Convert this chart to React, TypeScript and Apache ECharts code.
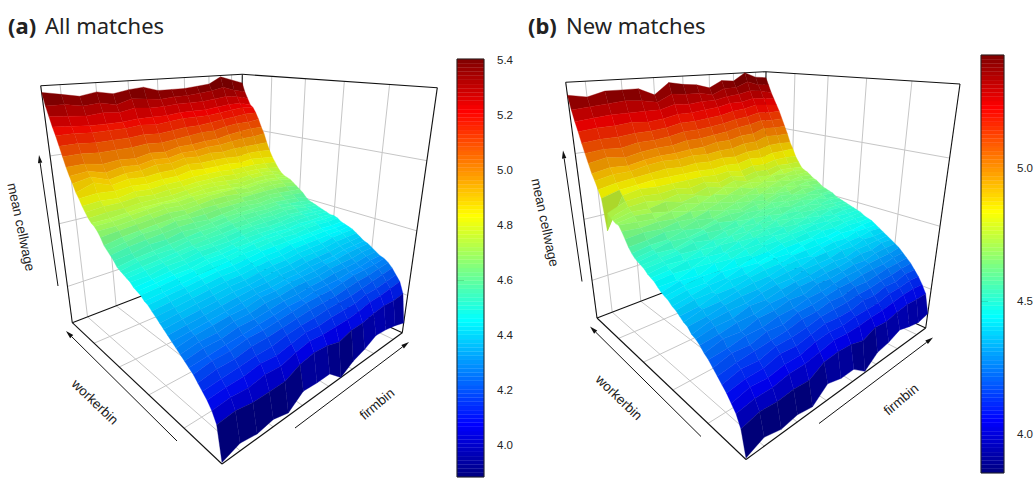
import React, { useEffect, useRef } from "react";
import * as echarts from "echarts";

const firmTicks = [2, 4, 6, 8, 10, 12, 14];
const workerTicks = [10, 20, 30, 40];
const wageTicks = [4.08, 4.56, 5.03];
const barTicksA = [4.0, 4.2, 4.4, 4.6, 4.8, 5.0, 5.2, 5.4];
const barTicksB = [4.0, 4.5, 5.0];

// mean cellwage x100; rows workerbin 1..50, columns firmbin 1..15
const wageAll = [
[379,383,381,383,380,388,387,387,378,384,387,392,391,389,386],
[400,401,399,399,399,404,406,405,402,405,405,407,408,407,408],
[406,407,406,408,407,410,412,411,411,411,412,414,414,415,416],
[410,411,411,413,412,414,416,415,416,416,416,418,418,419,420],
[413,414,415,416,416,418,419,419,420,420,420,421,422,423,424],
[416,418,418,420,420,421,422,423,423,423,424,425,425,426,427],
[419,421,421,423,423,424,425,426,426,426,427,428,428,428,429],
[421,422,423,424,425,426,427,427,428,428,428,429,429,430,430],
[423,425,425,427,427,428,429,429,430,430,431,431,431,432,432],
[425,427,427,429,429,431,431,432,432,432,433,433,433,434,434],
[427,429,430,431,431,433,433,434,434,434,435,435,436,436,436],
[429,430,431,432,433,434,434,435,435,436,436,436,437,437,437],
[431,432,433,434,435,436,436,437,437,438,438,438,439,439,439],
[433,434,435,436,437,437,438,439,439,440,440,440,441,441,441],
[435,436,437,438,439,439,440,441,441,442,442,442,443,443,443],
[437,438,439,440,441,441,442,443,443,444,444,444,444,444,444],
[439,440,441,442,443,443,444,445,445,446,446,446,446,445,445],
[441,442,443,444,445,445,446,447,447,447,447,447,447,446,446],
[442,443,444,445,446,447,448,448,449,449,448,449,449,448,448],
[444,445,446,447,448,448,449,450,450,450,450,450,450,449,449],
[445,446,447,447,449,449,450,450,451,451,450,451,450,450,449],
[446,447,448,449,450,450,451,452,452,452,452,452,452,451,450],
[448,448,450,450,452,452,452,453,454,453,453,454,453,452,451],
[449,450,451,452,453,453,454,455,455,455,455,455,454,453,452],
[450,451,452,453,454,455,455,456,456,457,456,457,456,454,453],
[451,453,454,454,456,456,457,458,458,458,458,458,457,455,454],
[452,454,455,456,457,458,458,459,460,460,459,460,458,457,455],
[455,456,458,458,460,459,460,461,461,461,461,461,460,459,457],
[457,459,460,461,462,462,461,462,463,463,462,463,462,461,460],
[459,461,463,463,465,464,464,465,465,465,464,465,464,463,462],
[461,463,464,465,466,466,467,467,467,467,467,467,467,466,464],
[465,466,467,468,469,468,469,470,470,469,468,469,469,468,466],
[468,468,469,470,471,470,471,472,472,472,470,471,471,470,468],
[470,470,471,472,473,472,473,473,473,472,471,472,472,471,469],
[471,471,472,473,473,473,474,475,475,474,473,474,474,473,470],
[473,474,474,475,475,475,476,477,477,476,475,476,476,475,472],
[476,477,477,478,477,478,478,479,479,479,478,478,478,477,475],
[479,480,479,481,480,481,481,482,482,482,481,481,481,480,479],
[483,484,483,484,483,484,484,486,485,485,485,484,485,484,483],
[486,490,486,488,487,488,488,490,489,489,489,488,489,489,488],
[491,493,489,491,491,493,492,494,493,494,493,494,494,494,494],
[495,496,493,495,494,496,495,497,497,498,498,499,500,500,501],
[500,500,498,499,498,500,499,501,501,502,502,504,505,506,506],
[506,506,505,505,505,506,505,506,507,508,508,510,511,511,512],
[512,512,511,511,511,512,511,512,513,513,514,515,516,517,517],
[518,518,517,517,517,518,517,518,519,519,519,520,521,522,521],
[523,522,521,521,521,522,522,522,523,523,523,524,525,525,523],
[529,528,527,528,527,529,528,528,529,529,529,530,531,530,528],
[535,535,533,534,532,535,534,533,534,534,535,536,538,535,533],
[543,541,539,541,539,541,542,539,539,539,540,541,546,543,540],
];
const wageNew = [
[377,382,379,381,379,388,385,385,377,385,387,391,388,386,388],
[393,396,395,396,395,401,402,401,398,402,401,403,404,403,403],
[400,402,402,404,404,406,408,407,407,408,408,409,410,410,409],
[404,407,406,408,408,411,412,411,412,412,412,414,414,415,414],
[408,410,410,413,412,414,416,415,415,417,416,418,417,419,418],
[411,414,413,416,416,417,419,419,419,420,420,421,421,422,422],
[414,416,417,418,419,421,421,423,422,424,423,424,425,425,425],
[417,420,419,422,421,424,424,425,426,426,427,427,427,428,428],
[420,421,423,423,425,425,427,427,428,429,429,430,430,430,431],
[422,425,424,427,427,429,428,431,430,431,432,431,433,433,433],
[425,426,428,428,430,430,432,432,433,433,434,435,434,436,435],
[427,429,429,432,431,433,434,434,435,436,435,437,437,437,437],
[428,431,432,432,434,435,435,437,437,437,439,438,440,439,439],
[431,432,434,435,435,437,438,438,440,440,440,441,441,442,441],
[432,435,435,437,438,438,440,441,440,442,443,442,444,443,443],
[434,435,438,438,440,441,441,443,443,443,444,445,444,445,445],
[436,438,438,441,441,443,444,443,445,446,445,446,447,446,446],
[437,439,441,441,444,443,445,446,446,446,448,447,448,448,447],
[439,441,441,444,443,446,446,448,448,449,448,450,449,449,449],
[440,442,444,443,447,446,449,449,450,450,451,450,451,450,450],
[441,444,443,447,446,449,449,451,450,452,451,453,451,452,451],
[443,443,447,446,449,449,452,451,453,452,454,452,454,453,452],
[445,446,445,449,448,452,451,454,453,455,453,455,454,454,453],
[446,447,449,448,452,451,454,453,456,454,456,455,456,455,454],
[447,449,448,451,450,454,453,456,455,457,456,458,456,457,455],
[449,450,451,450,453,452,456,455,458,456,458,457,459,457,456],
[450,451,452,454,452,455,455,458,457,460,458,460,458,459,458],
[451,453,452,455,456,455,458,456,460,459,461,460,461,459,459],
[452,454,456,455,457,459,457,460,459,462,460,463,461,462,460],
[454,456,456,459,457,460,461,460,462,461,464,462,464,463,461],
[457,458,460,459,462,460,463,461,464,462,465,464,466,464,463],
[461,462,461,463,462,465,462,465,463,466,464,467,465,466,465],
[465,464,465,464,466,464,467,464,467,465,468,466,468,467,466],
[468,467,466,468,465,469,466,469,466,469,467,470,468,469,468],
[468,470,469,467,470,467,471,468,471,468,471,469,471,470,470],
[469,472,471,473,470,472,469,473,470,472,470,473,472,473,471],
[470,474,475,473,475,472,475,472,475,472,474,472,475,474,473],
[472,477,478,477,478,476,478,475,478,475,477,476,478,477,477],
[459,480,482,481,481,481,481,480,481,479,481,480,482,482,481],
[480,483,484,485,485,485,485,484,485,484,486,485,487,487,487],
[485,487,488,489,490,489,490,489,490,489,491,491,493,493,492],
[490,492,492,494,495,494,495,494,495,495,497,497,500,499,499],
[494,496,495,497,498,498,499,499,501,501,503,503,506,505,505],
[500,502,500,502,503,503,505,505,506,507,509,510,512,511,511],
[506,507,506,508,508,509,511,511,512,513,515,516,518,517,517],
[512,513,513,514,514,515,517,517,518,519,521,522,524,523,522],
[519,520,520,521,520,521,523,523,524,525,527,527,529,528,527],
[525,526,527,527,527,527,530,529,530,530,532,533,535,534,532],
[532,533,534,535,534,532,537,536,536,534,538,538,542,539,538],
[541,539,542,542,542,537,545,543,542,539,544,543,549,545,544],
];

type P = [number, number];
function makeH(p00: P, p10: P, p11: P, p01: P) {
  const [x0, y0] = p00, [x1, y1] = p10, [x2, y2] = p11, [x3, y3] = p01;
  const dx1 = x1 - x2, dx2 = x3 - x2, sx = x0 - x1 + x2 - x3;
  const dy1 = y1 - y2, dy2 = y3 - y2, sy = y0 - y1 + y2 - y3;
  const den = dx1 * dy2 - dx2 * dy1;
  const g = (sx * dy2 - dx2 * sy) / den, h = (dx1 * sy - sx * dy1) / den;
  const a = x1 - x0 + g * x1, b = x3 - x0 + h * x3, d = y1 - y0 + g * y1, e = y3 - y0 + h * y3;
  return (u: number, v: number): P => {
    const W = g * u + h * v + 1;
    return [(a * u + b * v + x0) / W, (d * u + e * v + y0) / W];
  };
}

function jet(t: number, shade = 1) {
  const c = (v: number) => Math.round(255 * shade * Math.max(0, Math.min(1, v)));
  return `rgb(${c(Math.min(4 * t - 1.5, -4 * t + 4.5))},${c(Math.min(4 * t - 0.5, -4 * t + 3.5))},${c(Math.min(4 * t + 0.5, -4 * t + 2.5))})`;
}

function panelSeries(cfg: any, wage: number[][], barGrid: number) {
  const { bottom, top, vp, zlim, barRange } = cfg;
  const Hb = makeH(bottom[0], bottom[1], bottom[3], bottom[2]);
  const Ht = makeH(top[0], top[1], top[3], top[2]);
  const nR = wage.length, nC = wage[0].length;
  const zSpan = zlim[1] - zlim[0];
  const project = (w: number, f: number, z: number): P => {
    const zn = (z - zlim[0]) / zSpan;
    const B = Hb(w, f), T = Ht(w, f);
    const db = Math.hypot(B[0] - vp[0], B[1] - vp[1]);
    const dt = Math.hypot(T[0] - vp[0], T[1] - vp[1]);
    const d = 1 / ((1 - zn) / db + zn / dt);
    const s = (d - db) / (dt - db);
    return [B[0] + (T[0] - B[0]) * s, B[1] + (T[1] - B[1]) * s];
  };
  const lines: [number, number, number, number, number, number, string][] = [];
  const add = (a: number[], b: number[], col: string) => lines.push([a[0], a[1], a[2], b[0], b[1], b[2], col]);
  const [z0, z1] = zlim;
  const grey = "#c6c6c6", ink = "#111";
  firmTicks.forEach((t) => {
    const f = (t - 1) / (nC - 1);
    add([0, f, z0], [1, f, z0], grey);
    add([1, f, z0], [1, f, z1], grey);
  });
  workerTicks.forEach((t) => {
    const w = (t - 1) / (nR - 1);
    add([w, 0, z0], [w, 1, z0], grey);
    add([w, 1, z0], [w, 1, z1], grey);
  });
  wageTicks.forEach((z) => {
    add([1, 0, z], [1, 1, z], grey);
    add([0, 1, z], [1, 1, z], grey);
  });
  add([1, 0, z1], [1, 1, z1], ink);
  add([0, 1, z1], [1, 1, z1], ink);
  add([1, 0, z0], [1, 0, z1], ink);
  add([0, 1, z0], [0, 1, z1], ink);
  add([1, 1, z0], [1, 1, z1], ink);
  add([1, 0, z0], [1, 1, z0], ink);
  add([0, 1, z0], [1, 1, z0], ink);
  add([0, 0, z0], [1, 0, z0], ink);
  add([0, 0, z0], [0, 1, z0], ink);

  const cells: number[][] = [];
  for (let i = nR - 2; i >= 0; i--) for (let j = nC - 2; j >= 0; j--) cells.push([i, j]);
  const levels = Array.from({ length: 100 }, (_, k) => [k, k]);
  return [
    {
      type: "custom", xAxisIndex: 0, yAxisIndex: 0, clip: false, silent: true,
      data: lines.map((_, k) => [k, k]),
      renderItem: (_p: any, api: any) => {
        const L = lines[api.value(0)];
        const a = api.coord(project(L[0], L[1], L[2]));
        const b = api.coord(project(L[3], L[4], L[5]));
        return { type: "line", shape: { x1: a[0], y1: a[1], x2: b[0], y2: b[1] }, style: { stroke: L[6], lineWidth: L[6] === ink ? 1.1 : 1, fill: "none" } };
      },
    },
    {
      type: "custom", xAxisIndex: 0, yAxisIndex: 0, clip: false, silent: true,
      data: cells,
      renderItem: (_p: any, api: any) => {
        const i = api.value(0), j = api.value(1);
        const zs = [wage[i][j], wage[i + 1][j], wage[i + 1][j + 1], wage[i][j + 1]].map((v) => v / 100);
        const pts = [[i, j], [i + 1, j], [i + 1, j + 1], [i, j + 1]].map((q, k) =>
          api.coord(project(q[0] / (nR - 1), q[1] / (nC - 1), zs[k])));
        const mean = (zs[0] + zs[1] + zs[2] + zs[3]) / 4;
        const u = Math.max(0, Math.min(0.999, (mean - barRange[0]) / (barRange[1] - barRange[0])));
        const sw = (((zs[1] + zs[2]) - (zs[0] + zs[3])) / 2) * (nR - 1) / zSpan;
        const sf = (((zs[2] + zs[3]) - (zs[0] + zs[1])) / 2) * (nC - 1) / zSpan;
        const lamb = (-0.1 * sw - 0.2 * sf + 0.97) / Math.sqrt(1 + sw * sw + sf * sf);
        const shade = 0.82 + 0.18 * Math.max(0, Math.min(1, lamb));
        const col = jet((Math.floor(u * 100) + 0.5) / 100, shade);
        return { type: "polygon", shape: { points: pts }, style: { fill: col, stroke: col, lineWidth: 0.35 } };
      },
    },
    {
      type: "custom", xAxisIndex: barGrid, yAxisIndex: barGrid, silent: true, clip: false,
      data: levels,
      renderItem: (_p: any, api: any) => {
        const k = api.value(0);
        const r = barRange[1] - barRange[0];
        const a = api.coord([0, barRange[0] + (r * k) / 100]);
        const b = api.coord([1, barRange[0] + (r * (k + 1)) / 100]);
        const col = jet((k + 0.5) / 100);
        return { type: "rect", shape: { x: a[0], y: b[1], width: b[0] - a[0], height: a[1] - b[1] }, style: { fill: col, stroke: col, lineWidth: 0.3 } };
      },
    },
    {
      type: "custom", xAxisIndex: barGrid, yAxisIndex: barGrid, silent: true, clip: false, z: 5,
      data: [[0, 0]],
      renderItem: (_p: any, api: any) => {
        const a = api.coord([0, barRange[0]]);
        const b = api.coord([1, barRange[1]]);
        return { type: "rect", shape: { x: a[0], y: b[1], width: b[0] - a[0], height: a[1] - b[1] }, style: { fill: "none", stroke: "#222", lineWidth: 1 } };
      },
    },
  ];
}

const panelA = {
  bottom: [[222, 464], [72.3, 322.7], [402.3, 332.7], [240, 258]],
  top: [[216, 116], [40.7, 85.7], [437.3, 87.7], [242.3, 74.3]],
  vp: [232, 1531], zlim: [3.78, 5.47], barRange: [3.884, 5.403],
};
const panelB = {
  bottom: [[746, 459.5], [597, 318], [925.7, 328], [764, 254]],
  top: [[740.5, 112], [565.7, 82.3], [960, 84], [766, 71.7]],
  vp: [756, 1527], zlim: [3.76, 5.49], barRange: [3.853, 5.425],
};

function axisTexts(dx: number, dy: number) {
  const t = (text: string, x: number, y: number, deg: number) => ({
    type: "text", x: x + dx, y: y + dy, rotation: (deg * Math.PI) / 180,
    style: { text, fill: "#222", font: "13.5px 'Liberation Sans'", textAlign: "center", textVerticalAlign: "middle" },
  });
  const arrow = (x1: number, y1: number, x2: number, y2: number) => {
    const a = Math.atan2(y2 - y1, x2 - x1), L = 8, W = 2.2;
    const bx = x2 - L * Math.cos(a), by = y2 - L * Math.sin(a);
    return [
      { type: "line", shape: { x1: x1 + dx, y1: y1 + dy, x2: bx + dx, y2: by + dy }, style: { stroke: "#111", lineWidth: 1 } },
      { type: "polygon", shape: { points: [[x2 + dx, y2 + dy], [bx - W * Math.sin(a) + dx, by + W * Math.cos(a) + dy], [bx + W * Math.sin(a) + dx, by - W * Math.cos(a) + dy]] }, style: { fill: "#111" } },
    ];
  };
  return [
    t("mean cellwage", 21, 227, -78), t("workerbin", 95, 402, -44), t("firmbin", 377, 404, 40),
    ...arrow(58, 286, 39, 155), ...arrow(177, 441, 66, 331), ...arrow(295, 428, 409, 342),
  ];
}

function heading(x1: number, x2: number, tag: string, name: string) {
  const font = "22px 'Noto Sans'";
  return [
    { type: "text", x: x1, y: 25, style: { text: tag, fill: "#222", font: "bold " + font, textVerticalAlign: "middle" } },
    { type: "text", x: x2, y: 25, style: { text: name, fill: "#222", font, textVerticalAlign: "middle" } },
  ];
}

function barAxis(grid: number, range: number[], ticks: number[]) {
  return {
    gridIndex: grid, type: "value", min: range[0], max: range[1], position: "right",
    axisLine: { show: false }, splitLine: { show: false },
    axisTick: { show: true, length: 7, inside: false, customValues: ticks, lineStyle: { color: "#222", width: 1 } },
    axisLabel: { show: true, margin: 13, customValues: ticks, color: "#222", fontFamily: "Liberation Sans", fontSize: 11.5, formatter: (v: number) => v.toFixed(1) },
  };
}

export default function App() {
  const ref = useRef<HTMLDivElement>(null);
  useEffect(() => {
    const chart = echarts.init(ref.current!, undefined, { renderer: "svg" });
    const hidden = { type: "value", show: false, splitLine: { show: false } };
    chart.setOption({
      animation: false,
      backgroundColor: "#fff",
      grid: [
        { left: 0, top: 0, width: 1036, height: 478 },
        { left: 457, top: 59, width: 27, height: 418 },
        { left: 981, top: 55, width: 24, height: 418 },
      ],
      xAxis: [
        { ...hidden, gridIndex: 0, min: 0, max: 1036 },
        { ...hidden, gridIndex: 1, min: 0, max: 1 },
        { ...hidden, gridIndex: 2, min: 0, max: 1 },
      ],
      yAxis: [
        { ...hidden, gridIndex: 0, min: 0, max: 478, inverse: true },
        barAxis(1, panelA.barRange, barTicksA),
        barAxis(2, panelB.barRange, barTicksB),
      ],
      graphic: [
        ...heading(8, 45, "(a)", "All matches"),
        ...heading(528, 566, "(b)", "New matches"),
        ...axisTexts(0, 0),
        ...axisTexts(524, -4.5),
      ],
      series: [...panelSeries(panelA, wageAll, 1), ...panelSeries(panelB, wageNew, 2)],
    });
    return () => chart.dispose();
  }, []);
  return <div ref={ref} style={{ position: "absolute", left: 0, top: 0, width: 1036, height: 478 }} />;
}
